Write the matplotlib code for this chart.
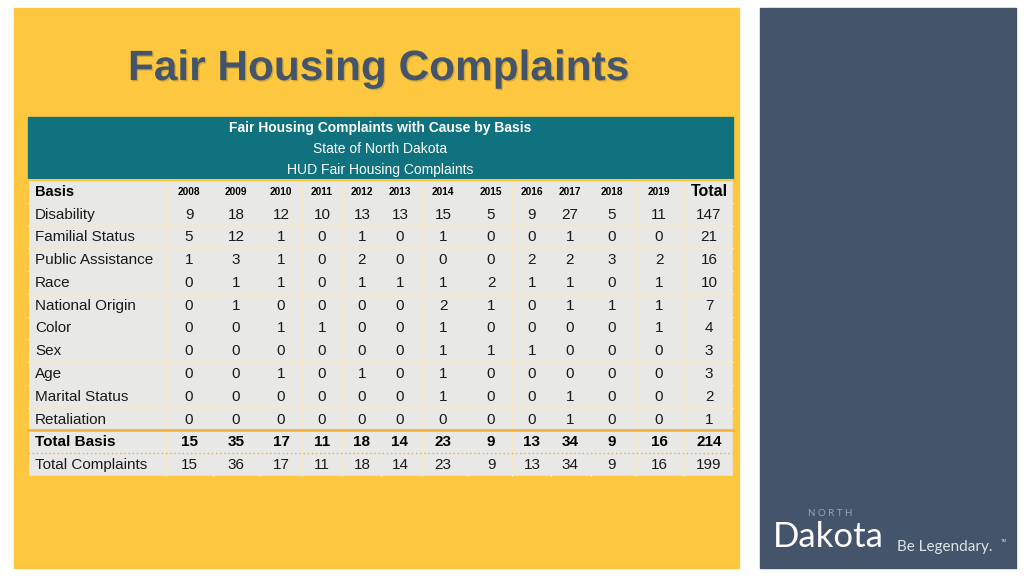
import matplotlib
matplotlib.use("Agg")
import matplotlib.pyplot as plt
from matplotlib.patches import Rectangle
import matplotlib.patheffects as pe

# data
years = ["2008", "2009", "2010", "2011", "2012", "2013", "2014",
         "2015", "2016", "2017", "2018", "2019"]
bases = ["Disability", "Familial Status", "Public Assistance", "Race",
         "National Origin", "Color", "Sex", "Age", "Marital Status", "Retaliation"]
counts = [
    [9, 18, 12, 10, 13, 13, 15, 5, 9, 27, 5, 11],
    [5, 12, 1, 0, 1, 0, 1, 0, 0, 1, 0, 0],
    [1, 3, 1, 0, 2, 0, 0, 0, 2, 2, 3, 2],
    [0, 1, 1, 0, 1, 1, 1, 2, 1, 1, 0, 1],
    [0, 1, 0, 0, 0, 0, 2, 1, 0, 1, 1, 1],
    [0, 0, 1, 1, 0, 0, 1, 0, 0, 0, 0, 1],
    [0, 0, 0, 0, 0, 0, 1, 1, 1, 0, 0, 0],
    [0, 0, 1, 0, 1, 0, 1, 0, 0, 0, 0, 0],
    [0, 0, 0, 0, 0, 0, 1, 0, 0, 1, 0, 0],
    [0, 0, 0, 0, 0, 0, 0, 0, 0, 1, 0, 0],
]
row_totals = [147, 21, 16, 10, 7, 4, 3, 3, 2, 1]
total_basis = [15, 35, 17, 11, 18, 14, 23, 9, 13, 34, 9, 16]
total_basis_all = 214
total_complaints = [15, 36, 17, 11, 18, 14, 23, 9, 13, 34, 9, 16]
total_complaints_all = 199

title = "Fair Housing Complaints"
header_lines = ["Fair Housing Complaints with Cause by Basis",
                "State of North Dakota",
                "HUD Fair Housing Complaints"]

YELLOW = "#FDC840"
SLATE = "#44546A"
TEAL = "#10717F"
CELL = "#E8E8E6"
GRID = "#F3E8C8"
ORANGE = "#F4AE3A"

plt.rcParams['font.family'] = ['Liberation Sans', 'DejaVu Sans']

fig = plt.figure(figsize=(10.24, 5.76), dpi=100)
ax = fig.add_axes([0, 0, 1, 1])
ax.set_xlim(0, 1024)
ax.set_ylim(576, 0)
ax.axis("off")

# slide panels
ax.add_patch(Rectangle((14, 8), 725, 560, color=YELLOW, zorder=0))
ax.add_patch(Rectangle((760, 8), 256, 560, color=SLATE, zorder=0))

ax.text(379, 69, title, ha="center", va="center", fontsize=30.5,
        fontweight="bold", color=SLATE,
        path_effects=[pe.withSimplePatchShadow(offset=(1, -1), alpha=0.18)])

# table geometry
left, right = 28, 733
col_x = [189, 236, 281, 322, 362, 400, 443, 491, 532, 570, 612, 659, 709]
head_top, head_bot = 117, 180
n_rows = len(bases) + 3
row_h = (476 - head_bot) / n_rows

ax.add_patch(Rectangle((left, head_top), right - left, head_bot - head_top,
                       color=TEAL, zorder=1))
ax.plot([left, right], [head_bot, head_bot], color=YELLOW, lw=1.5, zorder=3)
for i, line in enumerate(header_lines):
    ax.text(380, 128 + i * 21, line, ha="center", va="center", color="white",
            fontsize=10, fontweight="bold" if i == 0 else "normal", zorder=4)

ax.add_patch(Rectangle((left, head_bot), right - left, row_h * n_rows,
                       facecolor=CELL, edgecolor=YELLOW, lw=1, zorder=1))

# grid lines
edges = [166] + [(a + b) / 2 for a, b in zip(col_x[:-1], col_x[1:])]
for ex in edges:
    ax.plot([ex, ex], [head_bot, head_bot + row_h * n_rows], color=GRID, lw=0.8, zorder=2)
for r in range(1, n_rows):
    y = head_bot + r * row_h
    if r == n_rows - 2:
        ax.plot([left, right], [y, y], color=ORANGE, lw=1.8, zorder=3)
    elif r == n_rows - 1:
        ax.plot([left, right], [y, y], color=ORANGE, lw=1, ls=(0, (1, 2)), zorder=3)
    else:
        ax.plot([left, right], [y, y], color=GRID, lw=0.8, zorder=2)


def row_y(r):
    return head_bot + (r + 0.5) * row_h + 0.5


# header row
ax.text(35, row_y(0), "Basis", ha="left", va="center", fontsize=10.5,
        fontweight="bold", color="black", zorder=4)
for x, yr in zip(col_x, years):
    ax.text(x, row_y(0), yr, ha="center", va="center", fontsize=7.3,
            fontweight="bold", color="black", zorder=4)
ax.text(col_x[-1], row_y(0), "Total", ha="center", va="center", fontsize=11.5,
        fontweight="bold", color="black", zorder=4)

# body rows
for r, (name, vals, tot) in enumerate(zip(bases, counts, row_totals), start=1):
    ax.text(35, row_y(r), name, ha="left", va="center", fontsize=11,
            color="#1a1a1a", zorder=4)
    for x, v in zip(col_x, vals + [tot]):
        ax.text(x, row_y(r), str(v), ha="center", va="center", fontsize=11,
                color="#1a1a1a", zorder=4)

r = len(bases) + 1
ax.text(35, row_y(r), "Total Basis", ha="left", va="center", fontsize=11,
        fontweight="bold", color="black", zorder=4)
for x, v in zip(col_x, total_basis + [total_basis_all]):
    ax.text(x, row_y(r), str(v), ha="center", va="center", fontsize=11,
            fontweight="bold", color="black", zorder=4)
r += 1
ax.text(35, row_y(r), "Total Complaints", ha="left", va="center", fontsize=11,
        color="#1a1a1a", zorder=4)
for x, v in zip(col_x, total_complaints + [total_complaints_all]):
    ax.text(x, row_y(r), str(v), ha="center", va="center", fontsize=11,
            color="#1a1a1a", zorder=4)

# logo
ax.text(830, 514, "N O R T H", ha="center", va="center", fontsize=7,
        color="#9AA5B4", family=['Lato', 'DejaVu Sans'])
ax.text(773, 537, "Dakota", ha="left", va="center", fontsize=25,
        color="white", family=['Lato', 'DejaVu Sans'])
ax.text(897, 547, "Be Legendary.", ha="left", va="center", fontsize=11,
        color="#DDE2E8", family=['Lato', 'DejaVu Sans'])
ax.text(1001, 541, "TM", ha="left", va="center", fontsize=3,
        color="#DDE2E8")

fig.savefig("out.png", dpi=100)
